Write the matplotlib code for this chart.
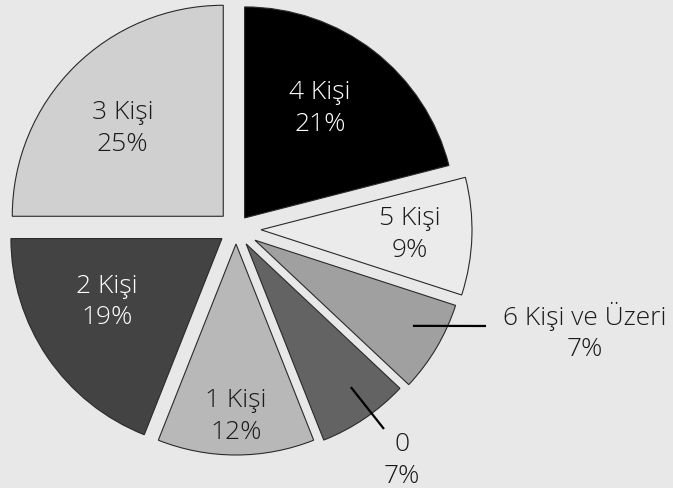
import numpy as np
import matplotlib
matplotlib.use("Agg")
import matplotlib.pyplot as plt

# ---- data ----
categories = ["4 Kişi", "5 Kişi", "6 Kişi ve Üzeri", "0", "1 Kişi", "2 Kişi", "3 Kişi"]
percents = [21, 9, 7, 7, 12, 19, 25]

# ---- style ----
colors = ["#000000", "#ebebeb", "#a0a0a0", "#636363", "#b8b8b8", "#434343", "#d0d0d0"]
text_colors = ["white", "#1a1a1a", "#1a1a1a", "#1a1a1a", "#1a1a1a", "white", "#1a1a1a"]
explode_px = [14, 25, 22, 18, 15, 17, 18]
# label placement: (distance / R, angle in degrees) measured from the pie centre
label_pos = [(0.70, 55.4), (0.825, -1.5), (1.72, -16.3), (1.345, -54.2),
             (0.885, -90.0), (0.70, -150.8), (0.72, 138.2)]
# leader lines: ((start dist / R, angle), (end dist / R, angle))
leader = {2: ((0.956, -28.7), (1.271, -21.2)),
          3: ((0.926, -54.0), (1.179, -53.5))}
bg = "#e8e8e8"
W, H = 673, 489
cx, cy = 236, H - 230
R = 211

plt.rcParams['font.family'] = ['Open Sans', 'DejaVu Sans']
fig = plt.figure(figsize=(W / 100, H / 100), dpi=100, facecolor=bg)
ax = fig.add_axes([0, 0, 1, 1])
ax.set_facecolor(bg)

wedges, _ = ax.pie(percents, colors=colors, startangle=90, counterclock=False,
                   radius=R, center=(cx, cy), explode=explode_px,
                   wedgeprops=dict(edgecolor="#2a2a2a", linewidth=0.8))
ax.set_xlim(0, W)
ax.set_ylim(0, H)
ax.set_aspect('equal')
ax.axis('off')


def polar(d, a):
    a = np.deg2rad(a)
    return cx + d * R * np.cos(a), cy + d * R * np.sin(a)


fs = 19
for i, w in enumerate(wedges):
    x, y = polar(*label_pos[i])
    ax.text(x, y, f"{categories[i]}\n{percents[i]}%", ha="center", va="center",
            color=text_colors[i], fontsize=fs, linespacing=1.35, fontweight='light')

for i, (s, e) in leader.items():
    x0, y0 = polar(*s)
    x1, y1 = polar(*e)
    ax.plot([x0, x1], [y0, y1], color="black", lw=1.6, solid_capstyle="butt")

fig.savefig("out.png", dpi=100, facecolor=bg)
